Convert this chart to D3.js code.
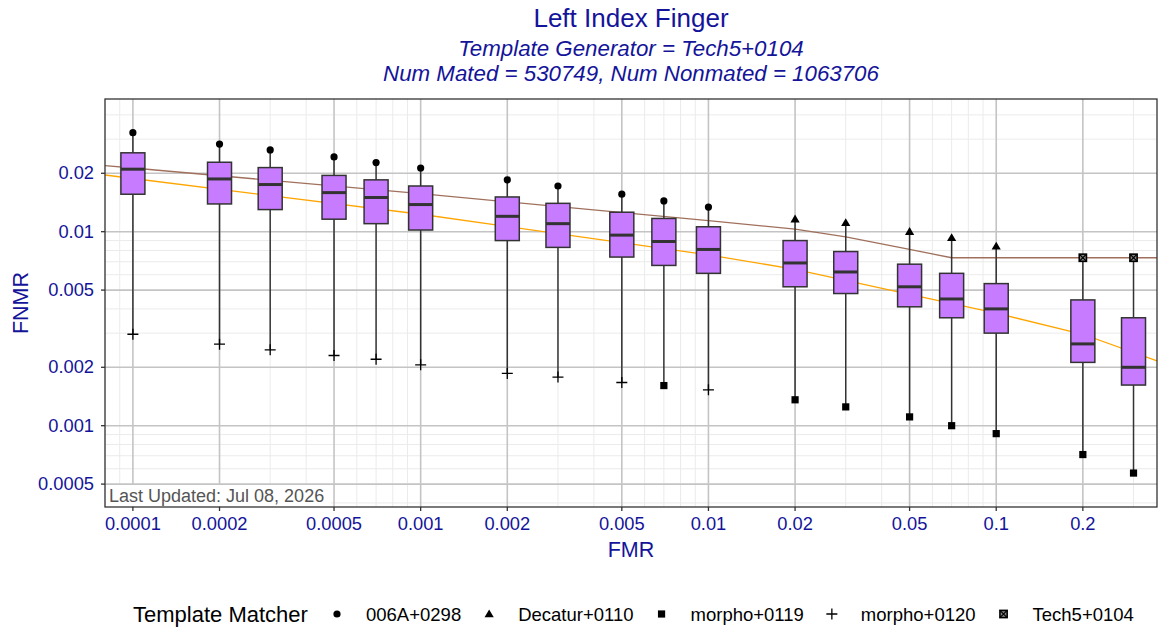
<!DOCTYPE html>
<html>
<head>
<meta charset="utf-8">
<script src="https://cdn.jsdelivr.net/npm/d3@7"></script>
<style>
  body { margin: 0; background: #fff; }
  text { font-family: "Liberation Sans", Arial, sans-serif; }
</style>
</head>
<body>
<script>
// FMR operating points (one box per point)
var fmr = [0.0001, 0.0002, 0.0003, 0.0005, 0.0007, 0.001, 0.002, 0.003, 0.005,
           0.007, 0.01, 0.02, 0.03, 0.05, 0.07, 0.1, 0.2, 0.3];
var upper = [0.0324, 0.0283, 0.0264, 0.0243, 0.0227, 0.0213, 0.0185, 0.0172, 0.0156,
             0.0144, 0.0134, 0.0116, 0.0111, 0.0100, 0.0093, 0.0084, 0.00734, 0.00734];
var upperMatcher = ["006A+0298", "006A+0298", "006A+0298", "006A+0298", "006A+0298", "006A+0298",
                    "006A+0298", "006A+0298", "006A+0298", "006A+0298", "006A+0298",
                    "Decatur+0110", "Decatur+0110", "Decatur+0110", "Decatur+0110", "Decatur+0110",
                    "Tech5+0104", "Tech5+0104"];
var q3 = [0.0255, 0.0228, 0.0214, 0.0195, 0.0185, 0.0172, 0.0151, 0.0140, 0.0126,
          0.0117, 0.0106, 0.0090, 0.0079, 0.0068, 0.0061, 0.0054, 0.00445, 0.0036];
var median = [0.0210, 0.0187, 0.0175, 0.0159, 0.0150, 0.0138, 0.0120, 0.0110, 0.0096,
              0.0089, 0.0081, 0.0069, 0.0062, 0.0052, 0.0045, 0.0040, 0.00264, 0.0020];
var q1 = [0.0156, 0.0139, 0.0130, 0.0116, 0.0110, 0.0102, 0.0090, 0.0083, 0.0074,
          0.0067, 0.0061, 0.0052, 0.0048, 0.0041, 0.0036, 0.0030, 0.00212, 0.00162];
var lower = [0.00296, 0.00263, 0.00246, 0.00230, 0.00220, 0.00206, 0.00186, 0.00178, 0.00167,
             0.00161, 0.00153, 0.00136, 0.00125, 0.00111, 0.00100, 0.00091, 0.00071, 0.00057];
var lowerMatcher = ["morpho+0120", "morpho+0120", "morpho+0120", "morpho+0120", "morpho+0120",
                    "morpho+0120", "morpho+0120", "morpho+0120", "morpho+0120", "morpho+0119",
                    "morpho+0120", "morpho+0119", "morpho+0119", "morpho+0119", "morpho+0119",
                    "morpho+0119", "morpho+0119", "morpho+0119"];

// reference curves
var brownFmr = [0.00008, 0.0001, 0.001, 0.01, 0.02, 0.03, 0.05, 0.07, 0.1, 0.2, 0.362];
var brownFnmr = [0.0219, 0.0213, 0.0157, 0.0114, 0.0103, 0.0094, 0.0081, 0.00734, 0.00734, 0.00734, 0.00734];
var orangeFmr = [0.00008, 0.0001, 0.001, 0.01, 0.02, 0.05, 0.1, 0.2, 0.362];
var orangeFnmr = [0.0196, 0.0188, 0.0123, 0.0076, 0.0064, 0.00475, 0.0038, 0.00296, 0.00216];

var xTicks = [0.0001, 0.0002, 0.0005, 0.001, 0.002, 0.005, 0.01, 0.02, 0.05, 0.1, 0.2];
var xTickLabels = ["0.0001", "0.0002", "0.0005", "0.001", "0.002", "0.005", "0.01", "0.02", "0.05", "0.1", "0.2"];
var yTicks = [0.0005, 0.001, 0.002, 0.005, 0.01, 0.02];
var yTickLabels = ["0.0005", "0.001", "0.002", "0.005", "0.01", "0.02"];

var matchers = ["006A+0298", "Decatur+0110", "morpho+0119", "morpho+0120", "Tech5+0104"];

var width = 1158, height = 629;
var panel = {left: 105, right: 1157, top: 99, bottom: 507};
var blue = "#14149a";

var x = d3.scaleLog().domain([0.00008, 0.362]).range([panel.left, panel.right]);
var y = d3.scaleLog().domain([0.000381, 0.0483]).range([panel.bottom, panel.top]);

var svg = d3.select("body").append("svg")
  .attr("width", width)
  .attr("height", height);

// titles
svg.append("text").attr("x", 631).attr("y", 27).attr("text-anchor", "middle")
  .style("font-size", "26px").style("fill", blue).text("Left Index Finger");
svg.append("text").attr("x", 631).attr("y", 56).attr("text-anchor", "middle")
  .style("font-size", "22.3px").style("font-style", "italic").style("fill", blue)
  .text("Template Generator = Tech5+0104");
svg.append("text").attr("x", 631).attr("y", 81).attr("text-anchor", "middle")
  .style("font-size", "22.3px").style("font-style", "italic").style("fill", blue)
  .text("Num Mated = 530749, Num Nonmated = 1063706");

var plot = svg.append("g");

//grid: minor then major
function isMajor(list, v) {
  return list.some(function(t) { return Math.abs(Math.log10(t) - Math.log10(v)) < 1e-6; });
}
var xMinor = x.ticks().filter(function(v) { return !isMajor(xTicks, v); });
var yMinor = y.ticks().filter(function(v) { return !isMajor(yTicks, v); });

plot.selectAll(".xminor").data(xMinor).enter().append("line")
  .attr("x1", function(d) { return x(d); }).attr("x2", function(d) { return x(d); })
  .attr("y1", panel.top).attr("y2", panel.bottom)
  .style("stroke", "#ebebeb").style("stroke-width", 1);
plot.selectAll(".yminor").data(yMinor).enter().append("line")
  .attr("y1", function(d) { return y(d); }).attr("y2", function(d) { return y(d); })
  .attr("x1", panel.left).attr("x2", panel.right)
  .style("stroke", "#ebebeb").style("stroke-width", 1);
plot.selectAll(".xmajor").data(xTicks).enter().append("line")
  .attr("x1", function(d) { return x(d); }).attr("x2", function(d) { return x(d); })
  .attr("y1", panel.top).attr("y2", panel.bottom)
  .style("stroke", "#c4c4c4").style("stroke-width", 1.6);
plot.selectAll(".ymajor").data(yTicks).enter().append("line")
  .attr("y1", function(d) { return y(d); }).attr("y2", function(d) { return y(d); })
  .attr("x1", panel.left).attr("x2", panel.right)
  .style("stroke", "#c4c4c4").style("stroke-width", 1.6);

//reference lines
var line = d3.line()
  .x(function(d) { return x(d[0]); })
  .y(function(d) { return y(d[1]); });
plot.append("path")
  .datum(d3.zip(brownFmr, brownFnmr))
  .attr("d", line)
  .style("fill", "none").style("stroke", "#a0705c").style("stroke-width", 1.3);
plot.append("path")
  .datum(d3.zip(orangeFmr, orangeFnmr))
  .attr("d", line)
  .style("fill", "none").style("stroke", "#ffa500").style("stroke-width", 1.3);

//boxes
var boxes = fmr.map(function(f, i) {
  return {fmr: f, hi: upper[i], hiM: upperMatcher[i], q3: q3[i], med: median[i],
          q1: q1[i], lo: lower[i], loM: lowerMatcher[i]};
});
var bw = 24;

var bg = plot.selectAll(".box").data(boxes).enter().append("g");
bg.append("line")
  .attr("x1", function(d) { return x(d.fmr); }).attr("x2", function(d) { return x(d.fmr); })
  .attr("y1", function(d) { return y(d.hi); }).attr("y2", function(d) { return y(d.lo); })
  .style("stroke", "#333").style("stroke-width", 1.5);
bg.append("rect")
  .attr("x", function(d) { return x(d.fmr) - bw / 2; })
  .attr("width", bw)
  .attr("y", function(d) { return y(d.q3); })
  .attr("height", function(d) { return y(d.q1) - y(d.q3); })
  .style("fill", "#c77cff").style("stroke", "#333").style("stroke-width", 1.5);
bg.append("line")
  .attr("x1", function(d) { return x(d.fmr) - bw / 2; }).attr("x2", function(d) { return x(d.fmr) + bw / 2; })
  .attr("y1", function(d) { return y(d.med); }).attr("y2", function(d) { return y(d.med); })
  .style("stroke", "#333").style("stroke-width", 3);

//point shapes per matcher
function drawShape(g, m, cx, cy, s) {
  s = s || 1;
  if (m === "006A+0298") {
    g.append("circle").attr("cx", cx).attr("cy", cy).attr("r", 3.6 * s).style("fill", "#000");
  } else if (m === "Decatur+0110") {
    var h = 4.6 * s;
    g.append("path").attr("d", "M" + cx + "," + (cy - h) + "L" + (cx + h) + "," + (cy + h * 0.7) +
      "L" + (cx - h) + "," + (cy + h * 0.7) + "Z").style("fill", "#000");
  } else if (m === "morpho+0119") {
    g.append("rect").attr("x", cx - 3.6 * s).attr("y", cy - 3.6 * s)
      .attr("width", 7.2 * s).attr("height", 7.2 * s).style("fill", "#000");
  } else if (m === "morpho+0120") {
    var r = 5.5 * s;
    g.append("path").attr("d", "M" + (cx - r) + "," + cy + "H" + (cx + r) + "M" + cx + "," + (cy - r) + "V" + (cy + r))
      .style("stroke", "#000").style("stroke-width", 1.3);
  } else {
    var q = 3.6 * s;
    g.append("rect").attr("x", cx - q).attr("y", cy - q).attr("width", 2 * q).attr("height", 2 * q)
      .style("fill", "#888").style("stroke", "#000").style("stroke-width", 1.6);
    g.append("path").attr("d", "M" + (cx - q) + "," + (cy - q) + "L" + (cx + q) + "," + (cy + q) +
      "M" + (cx + q) + "," + (cy - q) + "L" + (cx - q) + "," + (cy + q))
      .style("stroke", "#000").style("stroke-width", 1.3);
  }
}
boxes.forEach(function(d) {
  drawShape(plot, d.hiM, x(d.fmr), y(d.hi));
  drawShape(plot, d.loM, x(d.fmr), y(d.lo));
});

//date label
plot.append("rect").attr("x", panel.left + 1).attr("y", 485).attr("width", 225).attr("height", 21)
  .style("fill", "#fff");
plot.append("text").attr("x", 109).attr("y", 502)
  .style("font-size", "18px").style("fill", "#555").text("Last Updated: Jul 08, 2026");

//panel border
svg.append("rect")
  .attr("x", panel.left).attr("y", panel.top)
  .attr("width", panel.right - panel.left).attr("height", panel.bottom - panel.top)
  .style("fill", "none").style("stroke", "#333").style("stroke-width", 1.3);

//X axis
svg.selectAll(".xtick").data(xTicks).enter().append("line")
  .attr("x1", function(d) { return x(d); }).attr("x2", function(d) { return x(d); })
  .attr("y1", panel.bottom).attr("y2", panel.bottom + 4)
  .style("stroke", "#333").style("stroke-width", 1.3);
svg.selectAll(".xlab").data(xTicks).enter().append("text")
  .attr("x", function(d) { return x(d); }).attr("y", 530)
  .attr("text-anchor", "middle")
  .style("font-size", "18.3px").style("fill", blue)
  .text(function(d, i) { return xTickLabels[i]; });
svg.append("text").attr("x", 631).attr("y", 557).attr("text-anchor", "middle")
  .style("font-size", "21.5px").style("fill", blue).text("FMR");

//Y axis
svg.selectAll(".ytick").data(yTicks).enter().append("line")
  .attr("y1", function(d) { return y(d); }).attr("y2", function(d) { return y(d); })
  .attr("x1", panel.left - 4).attr("x2", panel.left)
  .style("stroke", "#333").style("stroke-width", 1.3);
svg.selectAll(".ylab").data(yTicks).enter().append("text")
  .attr("x", 94).attr("y", function(d) { return y(d) + 6; })
  .attr("text-anchor", "end")
  .style("font-size", "18.3px").style("fill", blue)
  .text(function(d, i) { return yTickLabels[i]; });
svg.append("text")
  .attr("transform", "translate(28," + (panel.top + panel.bottom) / 2 + ") rotate(-90)")
  .attr("text-anchor", "middle")
  .style("font-size", "21.5px").style("fill", blue).text("FNMR");

//legend
var legend = svg.append("g");
legend.append("text").attr("x", 133).attr("y", 622)
  .style("font-size", "22px").style("fill", "#000").text("Template Matcher");
var kx = 337;
matchers.forEach(function(m) {
  drawShape(legend, m, kx, 614, 1);
  var t = legend.append("text").attr("x", kx + 29).attr("y", 621)
    .style("font-size", "18.5px").style("fill", "#000").text(m);
  kx = kx + 29 + t.node().getComputedTextLength() + 28;
});
</script>
</body>
</html>
